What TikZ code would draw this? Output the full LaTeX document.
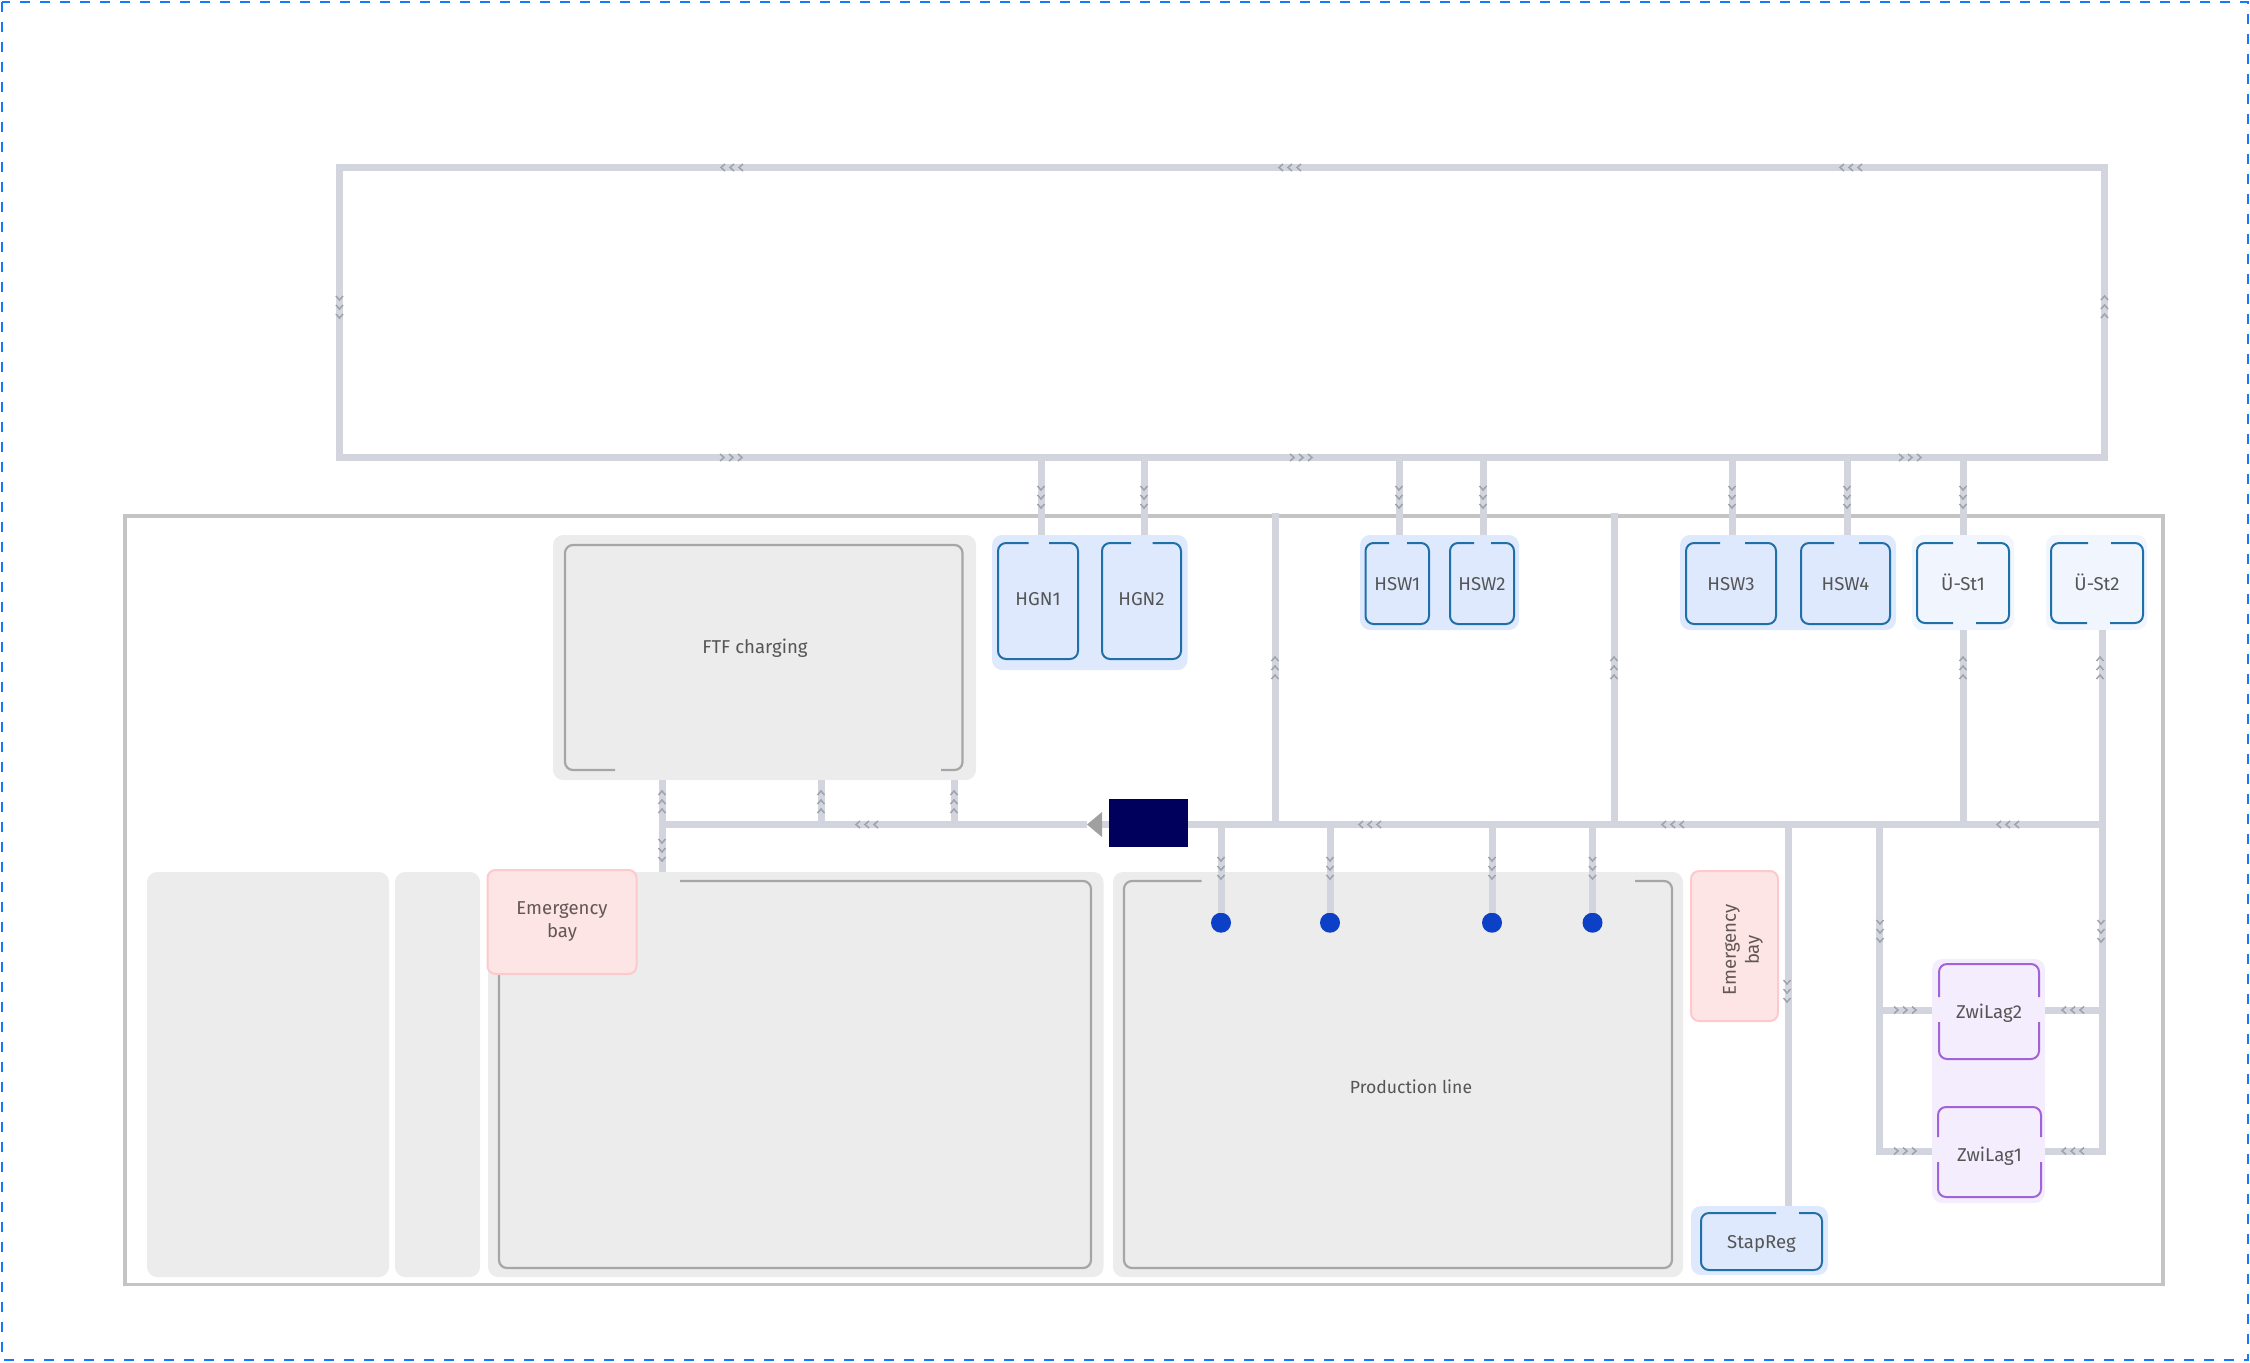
\documentclass[tikz,border=0pt]{standalone}
\usepackage{fontspec}
\setmainfont{Fira Sans}
\usetikzlibrary{arrows.meta,positioning,shapes.geometric}
\definecolor{pipegray}{RGB}{210,213,221}
\definecolor{chevgray}{RGB}{158,162,170}
\definecolor{zonegray}{RGB}{236,236,236}
\definecolor{rimgray}{RGB}{166,166,166}
\definecolor{hallgray}{RGB}{196,196,196}
\definecolor{tipgray}{RGB}{160,160,160}
\definecolor{stationblue}{RGB}{223,233,253}
\definecolor{stationpale}{RGB}{240,245,254}
\definecolor{rimblue}{RGB}{32,112,168}
\definecolor{storepurple}{RGB}{244,237,253}
\definecolor{rimpurple}{RGB}{160,100,216}
\definecolor{bayred}{RGB}{253,228,229}
\definecolor{rimred}{RGB}{253,201,204}
\definecolor{pumpnavy}{RGB}{0,0,92}
\definecolor{tapblue}{RGB}{12,64,198}
\definecolor{framedash}{RGB}{22,119,255}
\definecolor{labelgray}{RGB}{85,85,85}
\definecolor{baylabel}{RGB}{98,86,86}

\begin{document}
\begin{tikzpicture}[
    x=0.5pt, y=-0.5pt,
    dim/.style 2 args={minimum width=#1pt, minimum height=#2pt},
    box/.style={rectangle, inner sep=0pt, outer sep=0pt, rounded corners=4pt, align=center, text=labelgray, font=\fontsize{9.3}{11.5}\selectfont},
    zone/.style={box, fill=zonegray, rounded corners=5pt},
    stationzone/.style={box, fill=stationblue, rounded corners=5pt},
    palezone/.style={box, fill=stationpale, rounded corners=5pt},
    storezone/.style={box, fill=storepurple, rounded corners=5pt},
    station/.style={box, fill=stationblue, text height=7pt, text depth=0pt},
    palestation/.style={station, fill=stationpale},
    store/.style={station, fill=storepurple},
    bay/.style={box, fill=bayred, draw=rimred, line width=1pt, text=baylabel},
    caption/.style={box, text depth=0pt},
    hall/.style={box, draw=hallgray, line width=1.75pt, rounded corners=0pt},
    loopline/.style={box, draw=pipegray, line width=3.5pt, rounded corners=0pt},
    pipe/.style={draw=pipegray, line width=3.5pt},
    rimzone/.style={draw=rimgray, line width=1.1pt, rounded corners=4pt},
    rimstation/.style={draw=rimblue, line width=1pt, rounded corners=4pt},
    rimstore/.style={draw=rimpurple, line width=1pt, rounded corners=4pt},
    pump/.style={box, fill=pumpnavy, rounded corners=0pt},
    tap/.style={circle, fill=tapblue, minimum size=10pt, inner sep=0pt, outer sep=0pt},
    tiparrow/.style={pipe, -{Triangle[length=7.5pt, width=12.5pt, line width=0pt, color=tipgray]}},
    chev/.pic={
        \foreach \o in {-9,0,9}
            \draw[chevgray, line width=0.75pt] (\o+2,-3.5) -- (\o-2,0) -- (\o+2,3.5);
    }
]
    \useasboundingbox (0,0) rectangle (2250,1362);
    \draw[framedash, line width=1pt, dash pattern=on 5pt off 5pt] (2,2) rectangle (2248,1360);

    \node[hall, dim={1019}{384.25}] (hallframe) at (1144,900.25) {};
    \node[loopline, dim={882.5}{145}] (toploop) at (1222,312.5) {};

    \node[zone, dim={211.5}{122.5}] (ftfzone) at (764.5,657.5) {};
    \node[box, dim={198.75}{112.5}] (ftfbox) at (763.75,657.5) {};
    \node[zone, dim={121}{202.5}] (spareone) at (268,1074.5) {};
    \node[zone, dim={42.5}{202.5}] (sparetwo) at (437.5,1074.5) {};
    \node[zone, dim={307.75}{202.5}] (storagezone) at (795.75,1074.5) {};
    \node[box, dim={296}{193.5}] (storagebox) at (795,1074.5) {};
    \node[zone, dim={285}{202.5}] (linezone) at (1398,1074.5) {};
    \node[box, dim={274}{193.5}] (linebox) at (1398,1074.5) {};

    \node[stationzone, dim={97.75}{67.5}] (hgnzone) at (1089.75,602.5) {};
    \node[station, dim={40}{58}, text depth=3pt] (hgnone) at (1038,601) {HGN1};
    \node[station, dim={39.5}{58}, text depth=3pt] (hgntwo) at (1141.5,601) {HGN2};
    \node[stationzone, dim={79.5}{47.5}] (hswleftzone) at (1439.5,582.5) {};
    \node[station, dim={31.75}{40.5}] (hswone) at (1397.25,583.5) {HSW1};
    \node[station, dim={32}{40.5}] (hswtwo) at (1482,583.5) {HSW2};
    \node[stationzone, dim={108}{47.5}] (hswrightzone) at (1788,582.5) {};
    \node[station, dim={45}{40.5}] (hswthree) at (1731,583.5) {HSW3};
    \node[station, dim={44.5}{40.5}] (hswfour) at (1845.5,583.5) {HSW4};
    \node[palezone, dim={51}{47.5}] (ustonezone) at (1963,582.5) {};
    \node[palestation, dim={46}{40}] (ustone) at (1963,583) {Ü-St1};
    \node[palezone, dim={50.5}{47.5}] (usttwozone) at (2096.5,582.5) {};
    \node[palestation, dim={46}{40}] (usttwo) at (2097,583) {Ü-St2};

    \node[storezone, dim={56.5}{122}] (zwizone) at (1988.5,1081) {};
    \node[store, dim={50}{47.5}] (zwitwo) at (1989,1011.5) {ZwiLag2};
    \node[store, dim={51.5}{45}, text height=9pt] (zwione) at (1989.5,1152) {ZwiLag1};
    \node[stationzone, dim={68.5}{34.5}] (stapzone) at (1759.5,1240.5) {};
    \node[station, dim={60.5}{28.5}] (stapreg) at (1761.5,1241.5) {StapReg};

    \node[caption, text height=7pt] (ftflabel) at (755,646) {FTF charging};
    \node[caption, text height=7pt, font=\fontsize{8.8}{11}\selectfont] (linelabel) at (1411,1086) {Production line};

    \draw[rimzone] (941,770) -| (ftfbox.north east) -| (ftfbox.south west) -- (615,770);
    \draw[rimzone] (680,881) -| (storagebox.south east) -| (storagebox.north west) -- (499,950);
    \draw[rimzone] (1635,881) -| (linebox.south east) -| (linebox.north west) -- (1201.5,881);
    \draw[rimstation] (1049,543) -| (hgnone.south east) -| (hgnone.north west) -- (1028.5,543);
    \draw[rimstation] (1152.6,543) -| (hgntwo.south east) -| (hgntwo.north west) -- (1131,543);
    \draw[rimstation] (1407,543) -| (hswone.south east) -| (hswone.north west) -- (1389,543);
    \draw[rimstation] (1491,543) -| (hswtwo.south east) -| (hswtwo.north west) -- (1474,543);
    \draw[rimstation] (1745,543) -| (hswthree.south east) -| (hswthree.north west) -- (1720,543);
    \draw[rimstation] (1859,543) -| (hswfour.south east) -| (hswfour.north west) -- (1834,543);
    \draw[rimstation] (1977,543) -| (ustone.south east) -- (1976,623);
    \draw[rimstation] (1953,623) -| (ustone.north west) -- (1953,543);
    \draw[rimstation] (2111,543) -| (usttwo.south east) -- (2110,623);
    \draw[rimstation] (2087,623) -| (usttwo.north west) -- (2088,543);
    \draw[rimstation] (1799,1213) -| (stapreg.south east) -| (stapreg.north west) -- (1776,1213);
    \draw[rimstore] (1939,997) |- (zwitwo.north east) -- (2039,997);
    \draw[rimstore] (1939,1022) |- (zwitwo.south east) -- (2039,1022);
    \draw[rimstore] (1938,1137) |- (zwione.north east) -- (2041,1137);
    \draw[rimstore] (1938,1162) |- (zwione.south east) -- (2041,1162);

    \coordinate (hgnoneport) at (1041,535);
    \coordinate (hgntwoport) at (1144,535);
    \coordinate (hswoneport) at (1399,535);
    \coordinate (hswtwoport) at (1483,535);
    \coordinate (hswthreeport) at (1732,535);
    \coordinate (hswfourport) at (1847,535);
    \coordinate (ustoneport) at (1963,535);
    \coordinate (ustonefoot) at (1963.5,630);
    \coordinate (usttwofoot) at (2102,630);
    \coordinate (busright) at (2102,824.5);
    \coordinate (busleft) at (659,824.5);
    \coordinate (tipend) at (1087,824.5);
    \coordinate (feedone) at (662,780);
    \coordinate (feedtwo) at (821,780);
    \coordinate (feedthree) at (954,780);
    \coordinate (storagefeed) at (662,872);
    \coordinate (risea) at (1275,513);
    \coordinate (riseb) at (1614,513);
    \coordinate (stapport) at (1788.5,1206);
    \coordinate (zwibranch) at (1879.5,824.5);
    \coordinate (zwilinkone) at (1932,1151);
    \coordinate (zwilinktwo) at (1932,1010);
    \coordinate (zwibackone) at (2045,1151);
    \coordinate (zwibacktwo) at (2045,1010);

    \foreach \p in {hgnoneport,hgntwoport,hswoneport,hswtwoport,hswthreeport,hswfourport,ustoneport}
        \draw[pipe] (\p |- toploop.south) -- (\p);
    \foreach \p in {feedone,feedtwo,feedthree,storagefeed,ustonefoot,risea,riseb,stapport}
        \draw[pipe] (\p |- busright) -- (\p);

    \node[pump, dim={39.5}{24}] (pumpbox) at (1148.5,823) {};
    \node[tap] (tapone) at (1221,922.7) {};
    \node[tap] (taptwo) at (1330,922.7) {};
    \node[tap] (tapthree) at (1492,922.7) {};
    \node[tap] (tapfour) at (1592.5,922.7) {};

    \foreach \p in {tapone,taptwo,tapthree,tapfour}
        \draw[pipe] (\p |- busright) -- (\p.north);
    \draw[pipe] (busright) -- (pumpbox.east |- busright);
    \draw[tiparrow] (pumpbox.west |- busright) -- (tipend);
    \draw[pipe] (tipend) -- (busleft);
    \draw[pipe] (zwibranch) |- (zwilinkone);
    \draw[pipe] (usttwofoot) |- (zwibackone);
    \draw[pipe] (zwilinktwo) -- (zwilinktwo -| zwibranch);
    \draw[pipe] (zwibacktwo) -- (zwibacktwo -| usttwofoot);

    \foreach \cx/\cy/\cr in {732/167.5/0,1290/167.5/0,1851/167.5/0,867/824.5/0,1370/824.5/0,1673/824.5/0,2008/824.5/0,2073/1010/0,2073/1151/0,
            731/457.5/180,1301/457.5/180,1910/457.5/180,1905/1010/180,1905/1151/180,
            339.5/307/90,1041/497/90,1144/497/90,1399/497/90,1483/497/90,1732/497/90,1847/497/90,1963/497/90,662/850/90,1221/868/90,1330/868/90,1492/868/90,1592.5/868/90,1787/991/90,1880/931/90,2101/931/90,
            2104.5/307/-90,662/802/-90,821/802/-90,954/802/-90,1275/668/-90,1614/668/-90,1963/668/-90,2100/668/-90}
        \pic[rotate=\cr] at (\cx,\cy) {chev};

    \node[bay, dim={74.5}{52}] (bayone) at (562,922) {Emergency\\bay};
    \node[bay, dim={43.5}{75}] (baytwo) at (1734.5,946) {};
    \node[caption, rotate=90, text=baylabel] (baytwolabel) at (1741,950) {Emergency\\bay};
\end{tikzpicture}
\end{document}
